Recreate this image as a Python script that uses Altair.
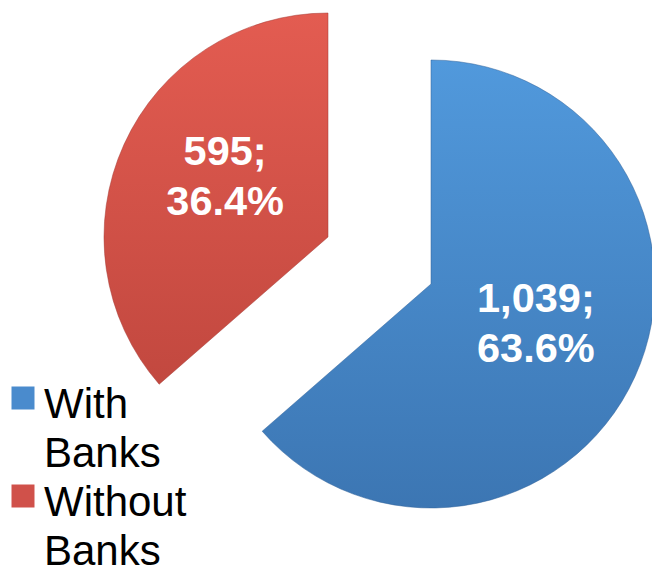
import altair as alt
import pandas as pd

categories = ["With Banks", "Without Banks"]
values = [1039, 595]

df = pd.DataFrame({"category": categories, "value": values})

base = alt.Chart(df).transform_joinaggregate(
    total="sum(value)"
).transform_window(
    cum="sum(value)", sort=[alt.SortField("category", order="ascending")]
).transform_calculate(
    f0="(datum.cum - datum.value) / datum.total",
    f1="datum.cum / datum.total",
    fm="(datum.cum - datum.value / 2) / datum.total",
    label="format(datum.value, ',') + ';\\n' + format(datum.value / datum.total, '.1%')",
)

tscale = alt.Scale(domain=[0, 1], range=[0, 6.283185307179586])

blue_grad = alt.LinearGradient(
    gradient="linear", x1=0, y1=0, x2=0, y2=1,
    stops=[alt.GradientStop(offset=0, color="#5199dc"),
           alt.GradientStop(offset=1, color="#3c76b3")],
)
red_grad = alt.LinearGradient(
    gradient="linear", x1=0, y1=0, x2=0, y2=1,
    stops=[alt.GradientStop(offset=0, color="#e35c51"),
           alt.GradientStop(offset=1, color="#c2483f")],
)

centers = {"With Banks": (431, 284), "Without Banks": (328, 237)}
grads = {"With Banks": (blue_grad, "#2f619a"), "Without Banks": (red_grad, "#a53a33")}
label_shift = {"With Banks": (2, -31), "Without Banks": (0, -37)}

layers = []
for cat in categories:
    cx, cy = centers[cat]
    g, sc = grads[cat]
    sel = base.transform_filter(alt.datum.category == cat)
    arc = sel.mark_arc(radius=224, fill=g, stroke=sc, strokeWidth=1, strokeOpacity=0.5).encode(
        theta=alt.Theta("f0:Q", scale=tscale),
        theta2="f1:Q",
        x=alt.value(cx),
        y=alt.value(cy),
    )
    dx, dy = label_shift[cat]
    txt = sel.mark_text(
        font="Liberation Sans", fontSize=41.5, fontWeight="bold", color="white",
        lineBreak="\n", lineHeight=50, align="center", baseline="middle",
        radius=113, dx=dx, dy=dy,
    ).encode(
        theta=alt.Theta("fm:Q", scale=tscale),
        x=alt.value(cx),
        y=alt.value(cy),
        text="label:N",
    )
    layers += [arc, txt]

legend_layer = alt.Chart(df).mark_square(opacity=0).encode(
    x=alt.value(0),
    y=alt.value(0),
    color=alt.Color(
        "category:N",
        scale=alt.Scale(domain=categories, range=["#4a8bcd", "#d0514a"]),
        legend=alt.Legend(
            title=None,
            orient="none",
            legendX=2,
            legendY=377,
            symbolType="square",
            symbolSize=529,
            symbolOpacity=1,
            symbolStrokeWidth=0,
            labelFont="Liberation Sans",
            labelFontSize=42,
            labelColor="black",
            labelLimit=0,
            labelOffset=0,
            labelExpr="split(datum.label, ' ')",
            rowPadding=0,
        ),
    ),
)

chart = alt.layer(*layers, legend_layer).properties(
    width=652, height=569, padding=0, autosize="none"
).configure(
    style={"guide-label": {"lineHeight": 48.5, "dy": 7}}
).configure_view(stroke=None)

chart.save("out.html", embed_options={"renderer": "svg", "actions": False})
